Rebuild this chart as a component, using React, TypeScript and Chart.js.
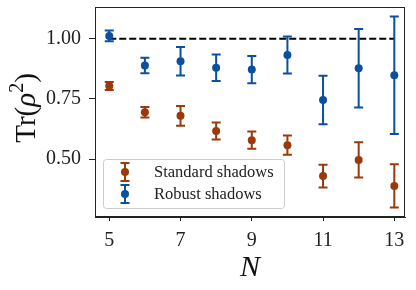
import React, { useEffect, useRef } from "react";
import { Chart, registerables } from "chart.js";

Chart.register(...registerables);

const N = [5, 6, 7, 8, 9, 10, 11, 12, 13];
const standardMean = [0.804, 0.695, 0.68, 0.617, 0.579, 0.558, 0.43, 0.497, 0.389];
const standardErr = [0.017, 0.022, 0.041, 0.035, 0.036, 0.04, 0.047, 0.073, 0.09];
const robustMean = [1.012, 0.889, 0.907, 0.88, 0.872, 0.933, 0.746, 0.878, 0.849];
const robustErr = [0.022, 0.032, 0.059, 0.055, 0.057, 0.077, 0.101, 0.163, 0.244];
const xTicks = [5, 7, 9, 11, 13];
const yTicks = [0.5, 0.75, 1.0];
const referenceLevel = 1.0;
const seriesLabels = ["Standard shadows", "Robust shadows"];

const ORANGE = "#9a3a0c";
const BLUE = "#0b50a0";
const SERIF = "'Liberation Serif', 'DejaVu Serif', serif";

export default function App() {
  const ref = useRef<HTMLCanvasElement | null>(null);
  useEffect(() => {
    document.body.style.margin = "0";
    const canvas = ref.current!;
    const errSets = [
      { mean: standardMean, err: standardErr, color: ORANGE },
      { mean: robustMean, err: robustErr, color: BLUE },
    ];
    const errorBars = {
      id: "errorBars",
      afterDatasetsDraw(chart: any) {
        const ctx = chart.ctx;
        const xs = chart.scales.x;
        const ys = chart.scales.y;
        ctx.save();
        errSets.forEach((s) => {
          ctx.strokeStyle = s.color;
          ctx.lineWidth = 2;
          N.forEach((n, i) => {
            const x = xs.getPixelForValue(n);
            const y1 = ys.getPixelForValue(s.mean[i] + s.err[i]);
            const y2 = ys.getPixelForValue(s.mean[i] - s.err[i]);
            ctx.beginPath();
            ctx.moveTo(x, y1);
            ctx.lineTo(x, y2);
            ctx.moveTo(x - 4.5, y1);
            ctx.lineTo(x + 4.5, y1);
            ctx.moveTo(x - 4.5, y2);
            ctx.lineTo(x + 4.5, y2);
            ctx.stroke();
          });
          ctx.fillStyle = s.color;
          N.forEach((n, i) => {
            const x = xs.getPixelForValue(n);
            const y = ys.getPixelForValue(s.mean[i]);
            ctx.beginPath();
            ctx.arc(x, y, 4, 0, Math.PI * 2);
            ctx.fill();
          });
        });
        ctx.restore();
      },
    };
    const decor = {
      id: "decor",
      afterDraw(chart: any) {
        const ctx = chart.ctx;
        const a = chart.chartArea;
        ctx.save();
        // frame
        ctx.strokeStyle = "#222";
        ctx.lineWidth = 1;
        ctx.strokeRect(a.left + 0.5, a.top + 0.5, a.right - a.left - 1, a.bottom - a.top - 1);
        // legend
        const lx = a.left + 8, ly = a.bottom - 58, lw = 181, lh = 49;
        ctx.fillStyle = "rgba(255,255,255,0.85)";
        ctx.strokeStyle = "#cccccc";
        ctx.lineWidth = 1;
        ctx.beginPath();
        ctx.roundRect(lx + 0.5, ly + 0.5, lw, lh, 3);
        ctx.fill();
        ctx.stroke();
        const colors = [ORANGE, BLUE];
        seriesLabels.forEach((lab, i) => {
          const cy = ly + 13 + i * 22;
          const mx = lx + 22;
          ctx.strokeStyle = colors[i];
          ctx.lineWidth = 2;
          ctx.beginPath();
          ctx.moveTo(mx, cy - 9);
          ctx.lineTo(mx, cy + 9);
          ctx.moveTo(mx - 4.5, cy - 9);
          ctx.lineTo(mx + 4.5, cy - 9);
          ctx.moveTo(mx - 4.5, cy + 9);
          ctx.lineTo(mx + 4.5, cy + 9);
          ctx.stroke();
          ctx.fillStyle = colors[i];
          ctx.beginPath();
          ctx.arc(mx, cy, 4, 0, Math.PI * 2);
          ctx.fill();
          ctx.fillStyle = "#222";
          ctx.font = `16.5px ${SERIF}`;
          ctx.textAlign = "left";
          ctx.textBaseline = "middle";
          ctx.fillText(lab, lx + 51, cy + 1);
        });
        // x title
        ctx.fillStyle = "#111";
        ctx.font = `italic 30px ${SERIF}`;
        ctx.textAlign = "center";
        ctx.textBaseline = "alphabetic";
        ctx.fillText("N", (a.left + a.right) / 2, 276);
        // y title
        ctx.translate(35, (a.top + a.bottom) / 2 - 4);
        ctx.rotate(-Math.PI / 2);
        const parts = [
          { t: "Tr(", f: `29px ${SERIF}`, dy: 0 },
          { t: "ρ", f: `italic 29px ${SERIF}`, dy: 0 },
          { t: "2", f: `20px ${SERIF}`, dy: -12 },
          { t: ")", f: `29px ${SERIF}`, dy: 0 },
        ];
        let total = 0;
        parts.forEach((p) => {
          ctx.font = p.f;
          total += ctx.measureText(p.t).width;
        });
        let px = -total / 2;
        ctx.textAlign = "left";
        parts.forEach((p) => {
          ctx.font = p.f;
          ctx.fillText(p.t, px, p.dy);
          px += ctx.measureText(p.t).width;
        });
        ctx.restore();
      },
    };
    const chart = new Chart(canvas, {
      type: "scatter",
      data: {
        datasets: [
          {
            type: "line",
            data: [
              { x: N[0], y: referenceLevel },
              { x: N[N.length - 1], y: referenceLevel },
            ],
            borderColor: "#000",
            borderWidth: 2,
            borderDash: [7, 3],
            pointRadius: 0,
            fill: false,
          },
        ],
      },
      options: {
        animation: false,
        responsive: true,
        maintainAspectRatio: false,
        layout: { padding: { top: 7, right: 11, left: 0, bottom: 0 } },
        plugins: { legend: { display: false }, tooltip: { enabled: false } },
        scales: {
          x: {
            type: "linear",
            min: 4.6,
            max: 13.3,
            afterBuildTicks: (s: any) => {
              s.ticks = xTicks.map((v) => ({ value: v }));
            },
            afterFit: (s: any) => {
              s.height = 73;
              s.paddingLeft = 0;
              s.paddingRight = 0;
            },
            grid: { display: true, drawOnChartArea: false, drawTicks: true, tickLength: 4, color: "#222" },
            border: { display: true, color: "#222" },
            ticks: {
              color: "#222",
              font: { family: SERIF, size: 20 },
              padding: 8,
              maxRotation: 0,
              callback: (v: any) => String(v),
            },
          },
          y: {
            min: 0.26,
            max: 1.132,
            afterBuildTicks: (s: any) => {
              s.ticks = yTicks.map((v) => ({ value: v }));
            },
            afterFit: (s: any) => {
              s.width = 95;
              s.paddingTop = 0;
              s.paddingBottom = 0;
            },
            grid: { display: true, drawOnChartArea: false, drawTicks: true, tickLength: 6, color: "#222" },
            border: { display: true, color: "#222" },
            ticks: {
              color: "#222",
              font: { family: SERIF, size: 20 },
              padding: 8,
              callback: (v: any) => Number(v).toFixed(2),
            },
          },
        },
      },
      plugins: [errorBars, decor],
    } as any);
    return () => chart.destroy();
  }, []);
  return (
    <div style={{ position: "fixed", left: 0, top: 0, width: 416, height: 290, background: "#fff" }}>
      <canvas ref={ref} />
    </div>
  );
}
